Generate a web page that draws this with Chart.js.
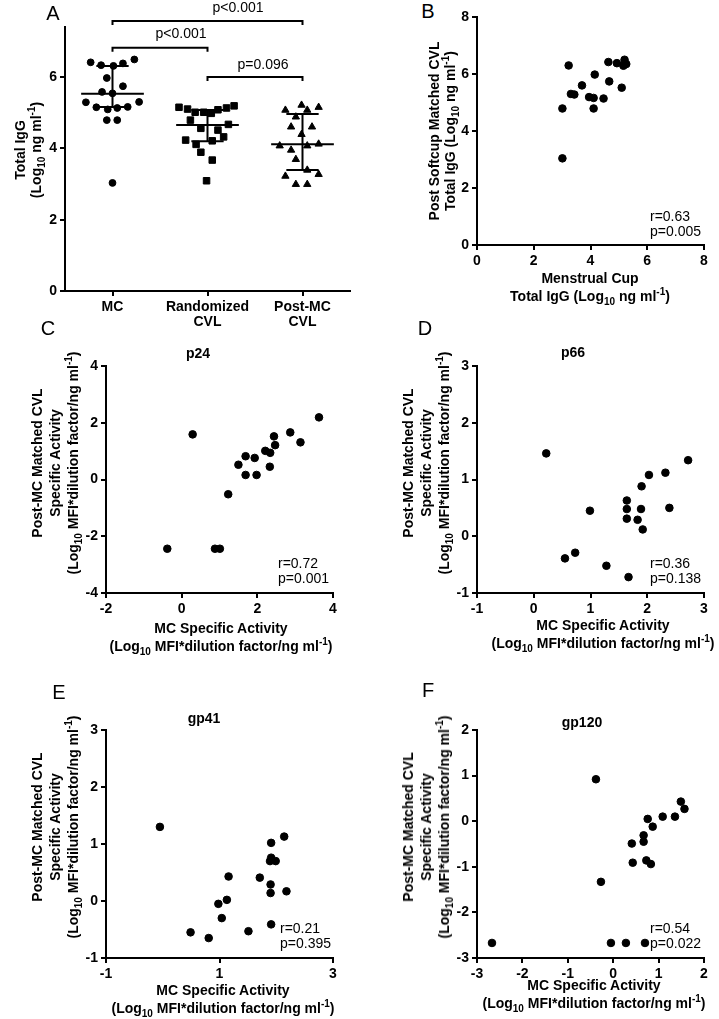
<!DOCTYPE html>
<html>
<head>
<meta charset="utf-8">
<script src="https://cdn.jsdelivr.net/npm/chart.js@4.4.0/dist/chart.umd.min.js"></script>
<style>
    html, body { margin: 0; padding: 0; background: #fff; }
    #fig { position: relative; width: 719px; height: 1019px; overflow: hidden;
           font-family: "Liberation Sans", Arial, sans-serif; color: #000; }
    .box { position: absolute; }
    .txt { position: absolute; white-space: nowrap; font-size: 14px; line-height: 16px; }
    .b { font-weight: bold; }
    .c { transform: translate(-50%, -50%); text-align: center; }
    .v { transform: translate(-50%, -50%) rotate(-90deg); text-align: center; }
    .l { transform: translateY(-50%); }
    .letter { font-size: 20px; line-height: 20px; }
    sub, sup { font-size: 10px; line-height: 0; }
</style>
</head>
<body>
<div id="fig"></div>
<script>
// Панель A: общий IgG по группам
const groupLabels = [['MC'], ['Randomized', 'CVL'], ['Post-MC', 'CVL']];
const mcX = [0.77, 0.88, 1.01, 1.11, 1.23, 0.94, 1.11, 0.89, 1.00, 0.72, 1.28, 0.83, 0.95, 1.05, 1.16, 0.94, 1.05, 1.00];
const mcY = [6.41, 6.33, 6.31, 6.38, 6.49, 5.97, 5.74, 5.58, 5.54, 5.29, 5.30, 5.15, 5.09, 5.13, 5.16, 4.79, 4.79, 3.03];
const randX = [1.70, 1.79, 1.87, 1.96, 2.04, 2.11, 2.20, 2.28, 1.82, 1.93, 2.11, 2.22, 2.17, 1.77, 1.88, 2.05, 1.93, 2.05, 1.99];
const randY = [5.15, 5.10, 5.01, 5.01, 4.98, 5.08, 5.13, 5.19, 4.79, 4.56, 4.51, 4.67, 4.32, 4.23, 4.11, 4.21, 3.89, 3.67, 3.09];
const postX = [2.82, 2.99, 3.05, 3.17, 2.93, 2.88, 3.10, 2.99, 2.76, 3.05, 3.17, 2.88, 2.93, 2.82, 3.05, 3.17, 2.93, 3.05];
const postY = [5.07, 5.21, 5.07, 5.15, 4.88, 4.60, 4.60, 4.39, 4.07, 4.07, 4.12, 3.95, 3.69, 3.22, 3.39, 3.27, 2.99, 2.99];
const medians = [5.53, 4.65, 4.11];
const q1 = [5.16, 4.20, 3.39];
const q3 = [6.31, 5.07, 4.96];
const pLabels = ['p<0.001', 'p<0.001', 'p=0.096'];

// Панель B: MC против CVL
const bX = [3.01, 3.01, 3.23, 3.31, 3.43, 3.70, 3.95, 4.11, 4.11, 4.15, 4.46, 4.63, 4.66, 4.93, 5.10, 5.16, 5.20, 5.26];
const bY = [3.04, 4.79, 6.30, 5.30, 5.28, 5.60, 5.19, 5.16, 4.79, 5.98, 5.14, 6.42, 5.74, 6.38, 5.52, 6.29, 6.50, 6.35];

// Панели C-F: удельная активность по антигенам
const p24X = [0.29, -0.38, 0.88, 1.01, 1.23, 1.50, 1.69, 1.69, 1.93, 1.98, 2.21, 2.34, 2.33, 2.44, 2.47, 2.87, 3.14, 3.63];
const p24Y = [1.59, -2.44, -2.44, -2.44, -0.52, 0.52, 0.82, 0.16, 0.76, 0.16, 1.01, 0.94, 0.45, 1.52, 1.21, 1.66, 1.31, 2.19];
const p66X = [0.22, 0.55, 0.73, 0.99, 1.28, 1.64, 1.64, 1.64, 1.67, 1.83, 1.89, 1.90, 1.92, 2.03, 2.32, 2.39, 2.72];
const p66Y = [1.46, -0.39, -0.29, 0.45, -0.52, 0.63, 0.48, 0.31, -0.72, 0.29, 0.48, 0.88, 0.12, 1.08, 1.12, 0.50, 1.34];
const gp41X = [-0.05, 0.49, 0.81, 0.98, 1.04, 1.13, 1.16, 1.51, 1.71, 1.89, 1.90, 1.90, 1.91, 1.91, 1.91, 1.99, 2.14, 2.18];
const gp41Y = [1.30, -0.55, -0.65, -0.05, -0.30, 0.02, 0.43, -0.53, 0.41, 0.70, 0.29, 0.14, -0.41, 1.02, 0.76, 0.70, 1.13, 0.17];
const gp120X = [-2.67, -0.38, -0.27, -0.05, 0.28, 0.70, 0.41, 0.43, 0.67, 0.67, 0.73, 0.83, 0.76, 0.87, 1.09, 1.36, 1.49, 1.57];
const gp120Y = [-2.67, 0.92, -1.33, -2.67, -2.67, -2.67, -0.49, -0.91, -0.31, -0.45, -0.86, -0.94, 0.05, -0.12, 0.10, 0.10, 0.43, 0.27];

// Корреляции (r, p) для B-F
const rValues = ['r=0.63', 'r=0.72', 'r=0.36', 'r=0.21', 'r=0.54'];
const pValues = ['p=0.005', 'p=0.001', 'p=0.138', 'p=0.395', 'p=0.022'];

const FONT = '"Liberation Sans", Arial, sans-serif';
const Y_AXIS_W = 40;
const PAD_RIGHT = 14;
Chart.defaults.font.family = FONT;
Chart.defaults.color = '#000';
Chart.defaults.animation = false;

const fig = document.getElementById('fig');

function toPoints(xs, ys) {
    return xs.map((x, i) => ({ x: x, y: ys[i] }));
}

// Ось в стиле GraphPad: чёрная линия, короткие риски наружу
function axis(min, max, step, fitSize, isX) {
    return {
        type: 'linear',
        min: min,
        max: max,
        ticks: {
            stepSize: step,
            includeBounds: false,
            color: '#000',
            padding: 3,
            font: { size: 14, weight: 'bold' }
        },
        grid: { drawOnChartArea: false, color: '#000', lineWidth: 2, tickLength: 5 },
        border: { color: '#000', width: 2 },
        afterFit: s => { if (isX) s.height = fitSize; else s.width = fitSize; }
    };
}

// Контейнер под график так, чтобы область графика легла на нужные пиксели
function makeBox(area, xAxisH, padTop) {
    const [l, t, r, b] = area;
    const div = document.createElement('div');
    div.className = 'box';
    div.style.left = (l - Y_AXIS_W) + 'px';
    div.style.top = (t - padTop) + 'px';
    div.style.width = (r - l + Y_AXIS_W + PAD_RIGHT) + 'px';
    div.style.height = (b - t + padTop + xAxisH) + 'px';
    const canvas = document.createElement('canvas');
    div.appendChild(canvas);
    fig.appendChild(div);
    return canvas;
}

function addText(html, x, y, cls, lh) {
    const d = document.createElement('div');
    d.className = 'txt ' + cls;
    d.innerHTML = html;
    d.style.left = x + 'px';
    d.style.top = y + 'px';
    if (lh) d.style.lineHeight = lh + 'px';
    fig.appendChild(d);
}

function scatterChart(area, xs, ys, xr, yr) {
    const canvas = makeBox(area, 30, 12);
    return new Chart(canvas, {
        type: 'scatter',
        data: {
            datasets: [{
                data: toPoints(xs, ys),
                backgroundColor: '#000',
                borderColor: '#000',
                pointRadius: 3.8,
                pointHoverRadius: 3.8,
                clip: false
            }]
        },
        options: {
            responsive: true,
            maintainAspectRatio: false,
            layout: { padding: { top: 12, right: PAD_RIGHT, left: 0, bottom: 0 } },
            plugins: { legend: { display: false }, tooltip: { enabled: false } },
            scales: {
                x: axis(xr[0], xr[1], xr[2], 30, true),
                y: axis(yr[0], yr[1], yr[2], Y_AXIS_W, false)
            }
        }
    });
}

// Скобки сравнения над панелью A
const comparisons = [
    { from: 1, to: 3, level: 7.57 },
    { from: 1, to: 2, level: 6.82 },
    { from: 2, to: 3, level: 6.0 }
];
const bracketPlugin = {
    id: 'brackets',
    afterDatasetsDraw(chart) {
        const { ctx, scales: { x, y } } = chart;
        ctx.save();
        ctx.strokeStyle = '#000';
        ctx.lineWidth = 2;
        comparisons.forEach(c => {
            const x1 = x.getPixelForValue(c.from);
            const x2 = x.getPixelForValue(c.to);
            const yy = y.getPixelForValue(c.level);
            ctx.beginPath();
            ctx.moveTo(x1, yy + 4);
            ctx.lineTo(x1, yy);
            ctx.lineTo(x2, yy);
            ctx.lineTo(x2, yy + 4);
            ctx.stroke();
        });
        ctx.restore();
    }
};

// Медиана и межквартильный размах
function summaryLines() {
    const sets = [];
    const seg = (x1, y1, x2, y2) => ({
        type: 'line',
        data: [{ x: x1, y: y1 }, { x: x2, y: y2 }],
        borderColor: '#000',
        borderWidth: 2,
        pointRadius: 0,
        pointHoverRadius: 0,
        clip: false
    });
    medians.forEach((m, i) => {
        const c = i + 1;
        sets.push(seg(c - 0.33, m, c + 0.33, m));
        sets.push(seg(c - 0.17, q3[i], c + 0.17, q3[i]));
        sets.push(seg(c - 0.17, q1[i], c + 0.17, q1[i]));
        sets.push(seg(c, q1[i], c, q3[i]));
    });
    return sets;
}

// ---- Панель A ----
const aCanvas = makeBox([65, 27, 350, 291], 45, 27);
const aX = axis(0.5, 3.5, 1, 45, true);
aX.afterBuildTicks = s => { s.ticks = groupLabels.map((_, i) => ({ value: i + 1 })); };
aX.ticks.callback = v => groupLabels[v - 1];
aX.ticks.font.lineHeight = 1.1;
new Chart(aCanvas, {
    type: 'scatter',
    data: {
        datasets: [
            { data: toPoints(mcX, mcY), pointStyle: 'circle', pointRadius: 3.4, backgroundColor: '#000', borderColor: '#000', clip: false },
            { data: toPoints(randX, randY), pointStyle: 'rect', pointRadius: 4.6, backgroundColor: '#000', borderColor: '#000', clip: false },
            { data: toPoints(postX, postY), pointStyle: 'triangle', pointRadius: 4.2, backgroundColor: '#000', borderColor: '#000', clip: false }
        ].concat(summaryLines())
    },
    options: {
        responsive: true,
        maintainAspectRatio: false,
        layout: { padding: { top: 27, right: PAD_RIGHT, left: 0, bottom: 0 } },
        plugins: { legend: { display: false }, tooltip: { enabled: false } },
        scales: {
            x: aX,
            y: axis(0, 7.4, 2, Y_AXIS_W, false)
        }
    },
    plugins: [bracketPlugin]
});

// ---- Панели B-F ----
scatterChart([477, 17, 704, 245], bX, bY, [0, 8, 2], [0, 8, 2]);
scatterChart([106, 366, 333, 593], p24X, p24Y, [-2, 4, 2], [-4, 4, 2]);
scatterChart([477, 366, 704, 593], p66X, p66Y, [-1, 3, 1], [-1, 3, 1]);
scatterChart([106, 730, 333, 958], gp41X, gp41Y, [-1, 3, 2], [-1, 3, 1]);
scatterChart([477, 730, 704, 958], gp120X, gp120Y, [-3, 2, 1], [-3, 2, 1]);

// ---- Подписи ----
const unitsIgG = 'Total IgG (Log<sub>10</sub> ng ml<sup>-1</sup>)';
const unitsMFI = '(Log<sub>10</sub> MFI*dilution factor/ng ml<sup>-1</sup>)';
const yTitleSA = 'Post-MC Matched CVL<br>Specific Activity<br>' + unitsMFI;
const xTitleSA = 'MC Specific Activity<br>' + unitsMFI;

// A
addText('A', 53, 13, 'c letter');
addText('Total IgG<br>(Log<sub>10</sub> ng ml<sup>-1</sup>)', 28, 150, 'v b', 16);
addText(pLabels[0], 238, 7, 'c');
addText(pLabels[1], 181, 33, 'c');
addText(pLabels[2], 263, 64, 'c');

// B
addText('B', 428, 11, 'c letter');
addText('Post Softcup Matched CVL<br>' + unitsIgG, 442, 131, 'v b', 16);
addText('Menstrual Cup<br>' + unitsIgG, 590, 287, 'c b', 18);
addText(rValues[0] + '<br>' + pValues[0], 650, 224, 'l', 15);

// C
addText('C', 48, 328, 'c letter');
addText('p24', 198, 353, 'c b');
addText(yTitleSA, 55, 463, 'v b', 18);
addText(xTitleSA, 221, 637, 'c b', 18);
addText(rValues[1] + '<br>' + pValues[1], 278, 571, 'l', 15);

// D
addText('D', 425, 328, 'c letter');
addText('p66', 573, 352, 'c b');
addText(yTitleSA, 426, 463, 'v b', 18);
addText(xTitleSA, 603, 634, 'c b', 18);
addText(rValues[2] + '<br>' + pValues[2], 650, 571, 'l', 15);

// E
addText('E', 59, 692, 'c letter');
addText('gp41', 204, 718, 'c b');
addText(yTitleSA, 55, 827, 'v b', 18);
addText(xTitleSA, 223, 999, 'c b', 18);
addText(rValues[3] + '<br>' + pValues[3], 280, 936, 'l', 15);

// F
addText('F', 428, 690, 'c letter');
addText('gp120', 582, 722, 'c b');
addText(yTitleSA, 426, 827, 'v b', 18);
addText(xTitleSA, 594, 994, 'c b', 18);
addText(rValues[4] + '<br>' + pValues[4], 650, 936, 'l', 15);
</script>
</body>
</html>
